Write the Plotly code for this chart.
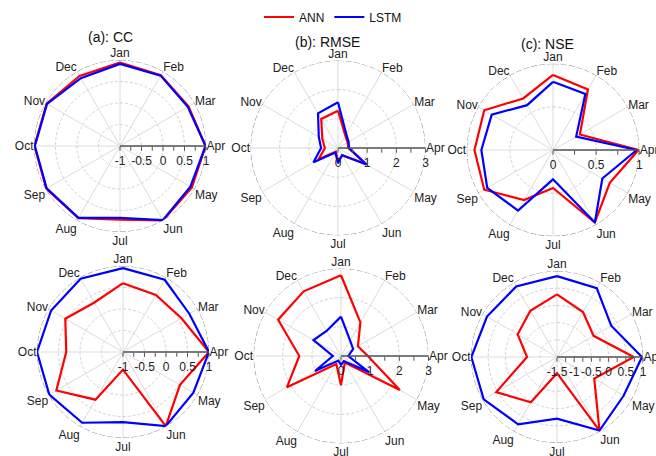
import numpy as np
import plotly.graph_objects as go

# Month labels around each radar panel (Jan at top, running clockwise)
months = ["Jan", "Feb", "Mar", "Apr", "May", "Jun",
          "Jul", "Aug", "Sep", "Oct", "Nov", "Dec"]

# Calibration period (top row)
cc_ann_cal = [0.94, 0.90, 0.84, 0.99, 0.93, 1.00, 0.71, 0.94, 0.98, 0.99, 0.97, 0.88]
cc_lstm_cal = [0.91, 0.89, 0.82, 0.99, 0.89, 0.99, 0.67, 0.93, 0.97, 0.98, 0.96, 0.82]
rmse_ann_cal = [1.28, 0.50, 0.38, 0.35, 1.10, 0.30, 0.45, 0.15, 0.77, 0.45, 0.62, 1.15]
rmse_lstm_cal = [1.57, 0.56, 0.42, 0.38, 1.13, 0.28, 0.52, 0.18, 0.97, 0.58, 0.76, 1.37]
nse_ann_cal = [0.87, 0.81, 0.36, 0.99, 0.76, 0.97, 0.44, 0.67, 0.92, 0.91, 0.92, 0.69]
nse_lstm_cal = [0.79, 0.75, 0.31, 0.97, 0.66, 0.97, 0.34, 0.81, 0.88, 0.83, 0.82, 0.60]

# Validation period (bottom row)
cc_ann_val = [0.60, 0.53, 0.57, 1.00, 0.53, 0.99, -0.59, 0.28, 0.79, 0.32, 0.55, 0.33]
cc_lstm_val = [0.95, 0.94, 0.78, 1.00, 0.89, 0.99, 0.63, 0.90, 0.98, 1.00, 0.93, 0.97]
rmse_ann_val = [2.77, 1.33, 0.67, 0.92, 2.33, 0.26, 1.00, 0.32, 2.14, 1.43, 2.49, 2.56]
rmse_lstm_val = [1.35, 0.62, 0.48, 0.25, 1.12, 0.20, 0.30, 0.18, 1.03, 0.28, 1.09, 0.99]
nse_ann_val = [0.32, 0.01, -0.27, 0.73, -0.25, 0.97, -1.03, 0.02, 0.54, -0.63, -0.18, 0.05]
nse_lstm_val = [0.85, 0.81, 0.32, 0.97, 0.74, 0.97, 0.29, 0.76, 0.96, 0.99, 0.85, 0.87]

# Radial tick labels per metric
cc_ticks = [-1, -0.5, 0, 0.5, 1]
rmse_ticks = [0, 1, 2, 3]
nse_ticks_cal = [0, 0.5, 1]
nse_ticks_val = [-1.5, -1, -0.5, 0, 0.5, 1]

RED = "#ff0000"
BLUE = "#0000ff"
FONT = "Arial, Liberation Sans, sans-serif"
W, H = 656, 456

month_angles = [30 * i for i in range(12)]
closed_theta = month_angles + [month_angles[0]]
circle_theta = np.linspace(0, 360, 241)


def closed(vals):
    return list(vals) + [vals[0]]


def fmt(v):
    return f"{v:g}"


# name, centre (px), radius (px), radial range, major ticks, minor step, title, ann, lstm
panels = [
    ("polar", (120, 146), 86, [-1, 1], cc_ticks, 0.25, "(a): CC", (110, 37), cc_ann_cal, cc_lstm_cal),
    ("polar2", (338, 148), 87.5, [0, 3], rmse_ticks, 0.5, "(b): RMSE", (327, 42), rmse_ann_cal, rmse_lstm_cal),
    ("polar3", (553, 150), 86.3, [0, 1], nse_ticks_cal, 0.25, "(c): NSE", (547, 44), nse_ann_cal, nse_lstm_cal),
    ("polar4", (123, 352), 86, [-1, 1], cc_ticks, 0.25, None, None, cc_ann_val, cc_lstm_val),
    ("polar5", (341, 356), 87.5, [0, 3], rmse_ticks, 0.5, None, None, rmse_ann_val, rmse_lstm_val),
    ("polar6", (557, 357), 86, [-1.5, 1], nse_ticks_val, 0.25, None, None, nse_ann_val, nse_lstm_val),
]

fig = go.Figure()
layout = {}
annotations = []

for idx, (name, (cx, cy), rad, rng, majors, step, title, tpos, ann, lstm) in enumerate(panels):
    # dashed grid circles at the labelled radii (outer edge drawn separately)
    for g in majors[1:-1]:
        fig.add_trace(go.Scatterpolar(
            r=[g] * len(circle_theta), theta=circle_theta, mode="lines",
            line=dict(color="#cfcfcf", width=1, dash="3px,2px"),
            hoverinfo="skip", showlegend=False, subplot=name))
    # outer rim
    fig.add_trace(go.Scatterpolar(
        r=[rng[1]] * len(circle_theta), theta=circle_theta, mode="lines",
        line=dict(color="#7a7a7a", width=1, dash="6px,2px"),
        hoverinfo="skip", showlegend=False, subplot=name))

    fig.add_trace(go.Scatterpolar(
        r=closed(ann), theta=closed_theta, mode="lines", name="ANN",
        line=dict(color=RED, width=2.2), showlegend=(idx == 0), subplot=name))
    fig.add_trace(go.Scatterpolar(
        r=closed(lstm), theta=closed_theta, mode="lines", name="LSTM",
        line=dict(color=BLUE, width=2.2), showlegend=(idx == 0), subplot=name))

    # major ticks carry labels, minor ticks are blank
    n = int(round((rng[1] - rng[0]) / step))
    tickvals = [round(rng[0] + k * step, 4) for k in range(n + 1)]
    ticktext = [fmt(v) if any(abs(v - m) < 1e-9 for m in majors) else "" for v in tickvals]

    layout[name] = dict(
        domain=dict(x=[(cx - rad) / W, (cx + rad) / W],
                    y=[1 - (cy + rad) / H, 1 - (cy - rad) / H]),
        bgcolor="rgba(0,0,0,0)",
        radialaxis=dict(
            range=rng, angle=0, tickangle=0, side="clockwise",
            tickvals=tickvals, ticktext=ticktext,
            showgrid=False, showline=True, linecolor="#555555", linewidth=1.5,
            ticks="outside", ticklen=4, tickcolor="#555555", tickwidth=1,
            tickfont=dict(family=FONT, size=12, color="#222222"),
        ),
        angularaxis=dict(
            thetaunit="degrees", rotation=90, direction="clockwise",
            tickmode="array", tickvals=month_angles, ticktext=months,
            showgrid=True, gridcolor="#dcdcdc", gridwidth=1,
            showline=False, ticks="",
            tickfont=dict(family=FONT, size=12, color="#222222"),
        ),
    )
    if title:
        annotations.append(dict(
            text=title, x=tpos[0] / W, y=1 - tpos[1] / H, xref="paper", yref="paper",
            xanchor="center", yanchor="middle", showarrow=False,
            font=dict(family=FONT, size=14, color="#111111")))

fig.update_layout(
    width=W, height=H,
    margin=dict(l=0, r=0, t=0, b=0),
    paper_bgcolor="white",
    font=dict(family=FONT, size=12, color="#222222"),
    legend=dict(orientation="h", x=333 / W, y=1 - 17 / H, xanchor="center", yanchor="middle",
                font=dict(family=FONT, size=12, color="#111111"),
                bgcolor="rgba(0,0,0,0)", itemwidth=30, tracegroupgap=0),
    annotations=annotations,
    **layout,
)

fig.write_html("out.html")
